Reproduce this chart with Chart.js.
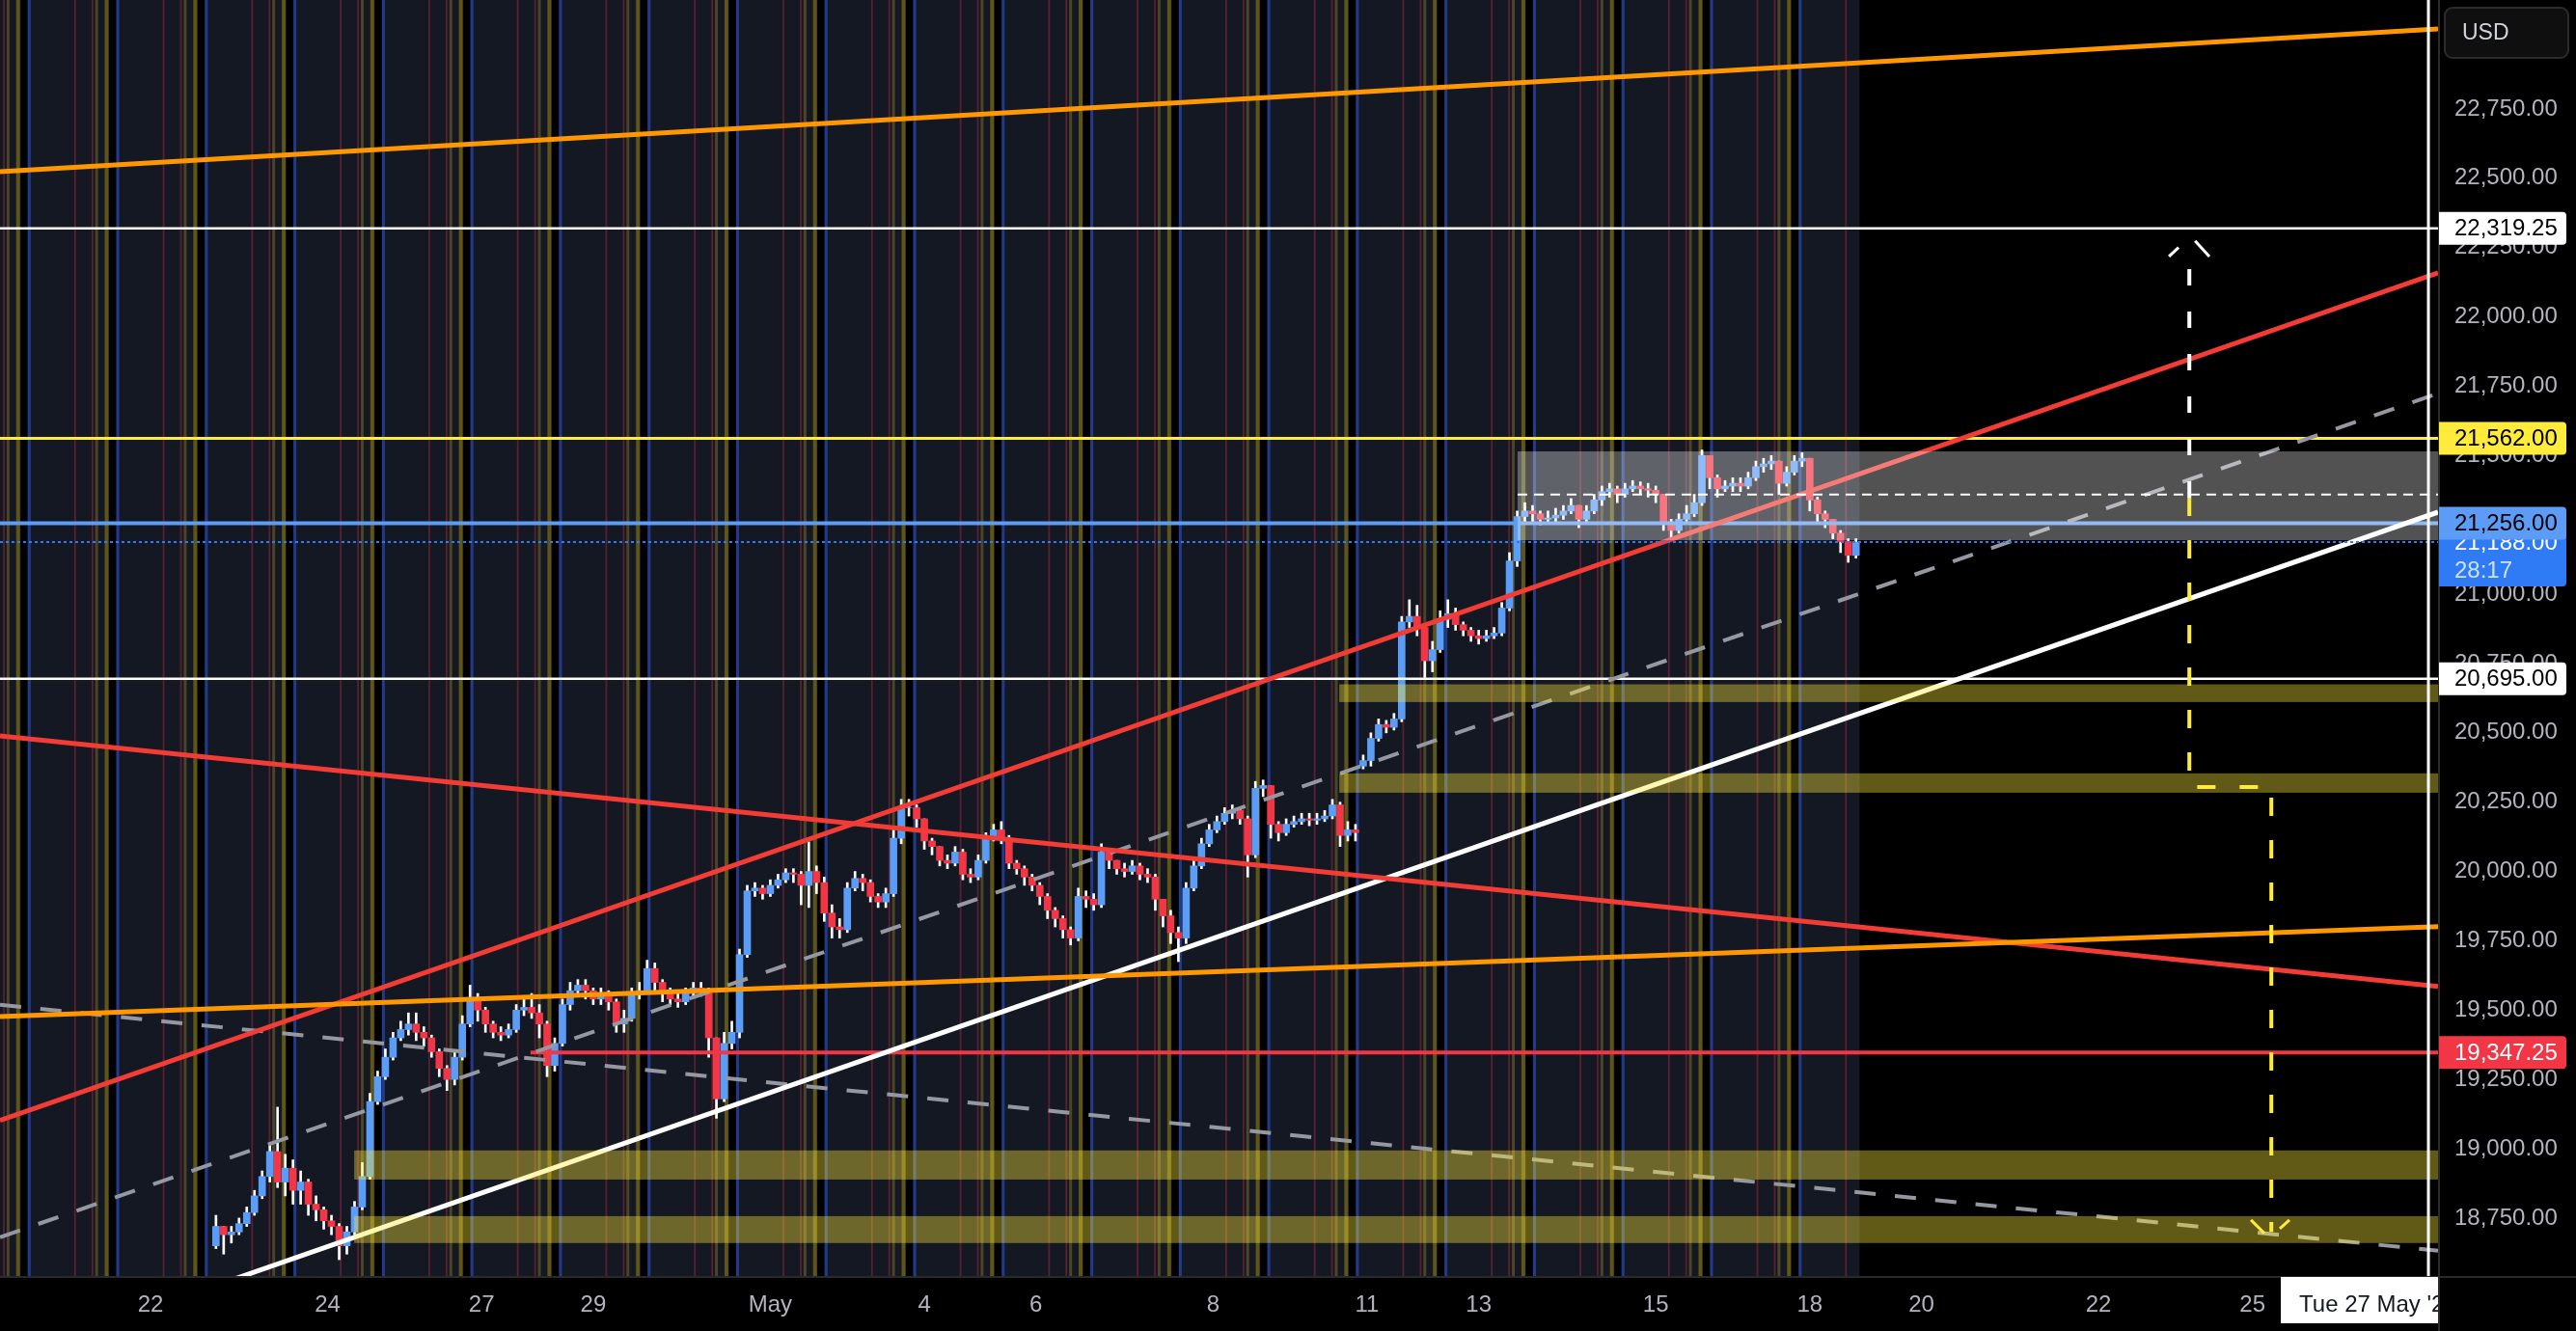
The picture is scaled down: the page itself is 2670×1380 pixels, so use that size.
<!DOCTYPE html>
<html>
<head>
<meta charset="utf-8">
<script src="https://cdn.jsdelivr.net/npm/chart.js@4.4.1/dist/chart.umd.min.js"></script>
<style>
  html, body { margin: 0; padding: 0; background: #000; }
  canvas { display: block; }
</style>
</head>
<body>
<canvas id="chart" width="2670" height="1380" style="width:2670px;height:1380px"></canvas>
<script>
// x axis is in trading hours (weekend gap removed), 0 = Tue 22 Apr 00:00
const tickHours = [0, 46, 86, 115, 161, 201, 230, 276, 316, 345, 391, 431, 460, 506, 546];
const tickLabels = ['22', '24', '27', '29', 'May', '4', '6', '8', '11', '13', '15', '18', '20', '22', '25'];
const priceTicks = [18750, 19000, 19250, 19500, 19750, 20000, 20250, 20500, 20750, 21000,
  21250, 21500, 21750, 22000, 22250, 22500, 22750];
const xMin = -39.1, xMax = 594.2;
const yMin = 18541, yMax = 23143;

// 2h candles, starting 16h after Tue 22 Apr 00:00
const candleStart = 16;
const candleHours = 2;
const firstOpen = 18650;
const gapIndex = [149];
const gapOpen = [20380];
const closes = [
  18720, 18690, 18700, 18730, 18770, 18830, 18900, 18990, 18880, 18930,
  18850, 18880, 18800, 18780, 18740, 18720, 18650, 18700, 18790, 18900,
  19170, 19260, 19330, 19400, 19430, 19450, 19420, 19400, 19350, 19290,
  19250, 19330, 19450, 19540, 19500, 19450, 19420, 19410, 19430, 19500,
  19510, 19490, 19450, 19300, 19380, 19520, 19570, 19590, 19570, 19540,
  19550, 19530, 19450, 19470, 19560, 19570, 19650, 19600, 19560, 19540,
  19530, 19560, 19580, 19570, 19400, 19180, 19380, 19420, 19700, 19930,
  19940, 19920, 19950, 19970, 19995, 19990, 19950, 20000, 19960, 19850,
  19800, 19790, 19940, 19975, 19960, 19910, 19890, 19920, 20120, 20230,
  20230, 20190, 20110, 20090, 20040, 20030, 20070, 19990, 19980, 20040,
  20120, 20150, 20120, 20030, 20010, 19980, 19950, 19910, 19860, 19830,
  19790, 19760, 19910, 19900, 19880, 20070, 20040, 20010, 20000, 20020,
  19990, 19980, 19900, 19840, 19780, 19760, 19940, 20020, 20100, 20150,
  20180, 20210, 20220, 20190, 20060, 20300, 20310, 20170, 20140, 20170,
  20180, 20190, 20185, 20190, 20200, 20240, 20130, 20150, 20140, 20400,
  20480, 20530, 20520, 20550, 20900, 20920, 20880, 20760, 20800, 20910,
  20930, 20890, 20870, 20850, 20840, 20850, 20860, 20950, 21120, 21280,
  21300, 21290, 21270, 21275, 21285, 21300, 21320, 21270, 21300, 21340,
  21370, 21380, 21360, 21380, 21390, 21380, 21375, 21360, 21260, 21230,
  21270, 21290, 21330, 21500, 21420, 21380, 21390, 21400, 21390, 21420,
  21460, 21470, 21480, 21400, 21440, 21480, 21490, 21340, 21290, 21270,
  21220, 21190, 21140, 21188
];
const highs = [
  18760, 18720, 18720, 18750, 18790, 18850, 18920, 19020, 19150, 18980,
  18960, 18920, 18890, 18830, 18790, 18760, 18730, 18720, 18810, 18950,
  19200, 19280, 19360, 19420, 19460, 19490, 19490, 19440, 19410, 19360,
  19300, 19350, 19480, 19590, 19560, 19510, 19460, 19440, 19450, 19520,
  19540, 19560, 19520, 19460, 19400, 19540, 19600, 19610, 19610, 19580,
  19580, 19570, 19540, 19500, 19580, 19600, 19680, 19670, 19610, 19580,
  19560, 19580, 19600, 19600, 19580, 19400, 19420, 19460, 19720, 19950,
  19960, 19950, 19970, 19990, 20010, 20010, 20000, 20107, 20020, 19980,
  19880, 19830, 19960, 20000, 19990, 19970, 19920, 19940, 20150, 20260,
  20260, 20240, 20190, 20120, 20090, 20060, 20090, 20080, 20010, 20060,
  20140, 20170, 20180, 20130, 20040, 20020, 19990, 19960, 19920, 19870,
  19840, 19800, 19940, 19930, 19920, 20100, 20080, 20040, 20030, 20040,
  20030, 20010, 19990, 19900, 19860, 19800, 19960, 20040, 20120, 20170,
  20200, 20230, 20240, 20230, 20200, 20325, 20330, 20310, 20180, 20190,
  20200, 20210, 20210, 20210, 20220, 20260, 20250, 20180, 20170, 20420,
  20500, 20550, 20545, 20570, 20920, 20980, 20960, 20880, 20830, 20940,
  20980, 20950, 20900, 20880, 20870, 20870, 20880, 20970, 21150, 21300,
  21330, 21320, 21300, 21300, 21310, 21320, 21345, 21320, 21320, 21360,
  21390, 21400, 21390, 21400, 21410, 21405, 21400, 21390, 21360, 21270,
  21290, 21320, 21360, 21520, 21500, 21430, 21410, 21420, 21420, 21440,
  21480, 21490, 21500, 21480, 21460, 21500, 21510, 21490, 21350, 21300,
  21270, 21230, 21200, 21200
];
const lows = [
  18640, 18620, 18660, 18690, 18720, 18760, 18820, 18880, 18860, 18830,
  18800, 18800, 18760, 18740, 18710, 18690, 18600, 18620, 18690, 18780,
  18890, 19160, 19250, 19320, 19390, 19410, 19390, 19370, 19330, 19260,
  19210, 19230, 19320, 19440, 19460, 19420, 19400, 19390, 19400, 19420,
  19480, 19470, 19400, 19260, 19280, 19370, 19500, 19550, 19540, 19520,
  19520, 19500, 19420, 19420, 19460, 19540, 19560, 19570, 19530, 19520,
  19510, 19520, 19550, 19550, 19330, 19110, 19170, 19360, 19400, 19690,
  19910, 19900, 19910, 19940, 19960, 19960, 19880, 19870, 19920, 19820,
  19760, 19760, 19780, 19930, 19930, 19890, 19870, 19870, 19910, 20100,
  20200, 20160, 20080, 20060, 20020, 20010, 20020, 19970, 19960, 19970,
  20030, 20110, 20100, 20010, 19990, 19950, 19930, 19880, 19830, 19800,
  19760, 19735, 19750, 19870, 19860, 19870, 20010, 19990, 19980, 19990,
  19970, 19960, 19860, 19800, 19740, 19675, 19740, 19930, 20010, 20090,
  20140, 20170, 20190, 20170, 19980, 20050, 20270, 20120, 20110, 20130,
  20160, 20170, 20165, 20170, 20180, 20190, 20090, 20110, 20110, 20370,
  20380, 20470, 20500, 20510, 20540, 20880, 20850, 20700, 20720, 20790,
  20880, 20870, 20850, 20830, 20820, 20830, 20840, 20850, 20940, 21100,
  21260, 21260, 21250, 21255, 21260, 21270, 21290, 21240, 21260, 21290,
  21320, 21350, 21330, 21350, 21370, 21360, 21350, 21330, 21230, 21200,
  21220, 21260, 21280, 21320, 21380, 21350, 21370, 21370, 21370, 21380,
  21410, 21440, 21450, 21360, 21390, 21430, 21460, 21300, 21260, 21240,
  21200, 21150, 21115, 21130
];

// trend lines: price at left edge (xMin) and right edge (xMax)
const trendStart = [22524, 19477, 19102, 20489, 18236, 18681, 19519];
const trendEnd = [23039, 19801, 22159, 19585, 21296, 21724, 18632];

// horizontal levels
const levelPrices = [22319.25, 21562, 21256, 20695, 19347.25];
const levelFrom = [xMin, xMin, xMin, xMin, 98.7];

// zones (yellow) and range box (gray)
const zoneFrom = [308.8, 308.8, 52.9, 52.9];
const zoneLow = [20611, 20284, 18889, 18660];
const zoneHigh = [20675, 20354, 18994, 18757];
const boxFrom = 355.1;
const boxLow = 21195, boxHigh = 21515, boxMid = 21359;

// arrows
const upArrow = [[529.6, 21348], [529.6, 22262]];
const upHeadLeft = [[524.3, 22218], [526.8, 22250]];
const upHeadRight = [[531.1, 22274], [534.8, 22218]];
const downPath = [[529.6, 21348], [529.6, 20305], [550.9, 20305], [550.9, 18700]];
const downHeadLeft = [[545.6, 18743], [549.1, 18695]];
const downHeadRight = [[553.1, 18712], [555.6, 18743]];

const lastPrice = 21188;
const countdown = '28:17';
const crossHour = 591.7;
const crossLabel = "Tue 27 May '25";

// session indicator: one cycle every 23 trading hours
const sessionBase = -31.5;
const sessionLength = 23;
const sessionEnd = 444;
const markOffsets = [0, 11.9, 16.4, 17.5, 20.1];
const blackBand = [20.75, 22.55];

const FONT = "'Liberation Sans', Arial, sans-serif";
const upColor = '#5b9cf6', downColor = '#f23645';

const markStyle = [
  ['#213a8c', 3], ['#5a2030', 1.8], ['#5a2030', 1.8], ['#4a4524', 3], ['#5e5516', 4]
];
const trendStyle = [
  ['#ff9800', 5, []], ['#ff9800', 5, []], ['#f23c35', 5, []], ['#f23c35', 5, []],
  ['#ffffff', 5, []], ['#9598a1', 4, [22, 20]], ['#9598a1', 4, [22, 20]]
];
const levelStyle = [['#ffffff', 2.5], ['#ffeb3b', 3], ['#5b9cf6', 4], ['#ffffff', 2.5], ['#f23645', 4]];

const hourOf = i => candleStart + candleHours * (i + 0.5);
const opens = closes.map((c, i) => i === 0 ? firstOpen : closes[i - 1]);
gapIndex.forEach((k, j) => { opens[k] = gapOpen[j]; });

const datasets = [];
datasets.push({
  type: 'bar', label: 'wick', order: 30, grouped: false, barThickness: 2,
  backgroundColor: '#ffffff', borderWidth: 0,
  data: closes.map((c, i) => ({ x: hourOf(i), y: [lows[i], highs[i]] }))
});
datasets.push({
  type: 'bar', label: 'body', order: 29, grouped: false, barThickness: 7,
  backgroundColor: closes.map((c, i) => c >= opens[i] ? upColor : downColor), borderWidth: 0,
  data: closes.map((c, i) => ({ x: hourOf(i), y: [opens[i], c] }))
});
levelPrices.forEach((p, i) => {
  datasets.push({
    type: 'line', label: 'level' + i, order: 20,
    borderColor: levelStyle[i][0], borderWidth: levelStyle[i][1],
    pointRadius: 0, fill: false,
    data: [{ x: levelFrom[i], y: p }, { x: xMax, y: p }]
  });
});
trendStart.forEach((p, i) => {
  datasets.push({
    type: 'line', label: 'trend' + i, order: 10,
    borderColor: trendStyle[i][0], borderWidth: trendStyle[i][1], borderDash: trendStyle[i][2],
    pointRadius: 0, fill: false,
    data: [{ x: xMin, y: p }, { x: xMax, y: trendEnd[i] }]
  });
});

const fmt = v => v.toLocaleString('en-US', { minimumFractionDigits: 2, maximumFractionDigits: 2 });

function path(ctx, chart, pts, color, width, dash) {
  const xs = chart.scales.x, ys = chart.scales.y;
  ctx.beginPath();
  pts.forEach(([h, p], i) => {
    const x = xs.getPixelForValue(h), y = ys.getPixelForValue(p);
    if (i) ctx.lineTo(x, y); else ctx.moveTo(x, y);
  });
  ctx.strokeStyle = color;
  ctx.lineWidth = width;
  ctx.setLineDash(dash);
  ctx.stroke();
  ctx.setLineDash([]);
}

const sessionPlugin = {
  id: 'sessions',
  beforeDatasetsDraw(chart) {
    const { ctx, chartArea: a } = chart;
    const xs = chart.scales.x;
    const xEnd = xs.getPixelForValue(sessionEnd);
    ctx.save();
    ctx.beginPath(); ctx.rect(a.left, a.top, xEnd - a.left, a.height); ctx.clip();
    ctx.fillStyle = '#141823';
    ctx.fillRect(a.left, a.top, xEnd - a.left, a.height);
    for (let n = -2; n <= 21; n++) {
      const b = sessionBase + sessionLength * n;
      const x0 = xs.getPixelForValue(b + blackBand[0]);
      const x1 = xs.getPixelForValue(b + blackBand[1]);
      ctx.fillStyle = '#000000';
      ctx.fillRect(x0, a.top, x1 - x0, a.height);
      markOffsets.forEach((o, j) => {
        const x = xs.getPixelForValue(b + o);
        ctx.fillStyle = markStyle[j][0];
        ctx.fillRect(x - markStyle[j][1] / 2, a.top, markStyle[j][1], a.height);
      });
    }
    ctx.restore();
  },
  afterDatasetsDraw(chart) {
    const { ctx, chartArea: a } = chart;
    const xs = chart.scales.x, ys = chart.scales.y;
    ctx.save();
    ctx.beginPath(); ctx.rect(a.left, a.top, a.width, a.height); ctx.clip();
    // yellow zones
    ctx.fillStyle = 'rgba(255, 235, 59, 0.38)';
    zoneFrom.forEach((h, i) => {
      const x0 = xs.getPixelForValue(h), y0 = ys.getPixelForValue(zoneHigh[i]);
      ctx.fillRect(x0, y0, a.right - x0, ys.getPixelForValue(zoneLow[i]) - y0);
    });
    // gray range box
    const bx = xs.getPixelForValue(boxFrom), by = ys.getPixelForValue(boxHigh);
    ctx.fillStyle = 'rgba(255, 255, 255, 0.32)';
    ctx.fillRect(bx, by, a.right - bx, ys.getPixelForValue(boxLow) - by);
    path(ctx, chart, [[boxFrom, boxMid], [xMax, boxMid]], '#ffffff', 2, [10, 7]);
    // current price dotted line
    path(ctx, chart, [[xMin, lastPrice], [xMax, lastPrice]], '#2f7bf5', 2, [3, 3]);
    // arrows
    path(ctx, chart, upArrow, '#ffffff', 4, [17, 27]);
    path(ctx, chart, upHeadLeft, '#ffffff', 3, []);
    path(ctx, chart, upHeadRight, '#ffffff', 3, []);
    path(ctx, chart, downPath, '#ffeb3b', 4, [19, 25]);
    path(ctx, chart, downHeadLeft, '#ffeb3b', 3, []);
    path(ctx, chart, downHeadRight, '#ffeb3b', 3, []);
    // crosshair
    const cx = xs.getPixelForValue(crossHour);
    ctx.fillStyle = '#ffffff';
    ctx.fillRect(cx - 1.5, a.top, 3, a.height);
    ctx.restore();
  },
  afterDraw(chart) {
    const { ctx, chartArea: a, width, height } = chart;
    const xs = chart.scales.x, ys = chart.scales.y;
    ctx.save();
    // separators
    ctx.fillStyle = '#2a2a2a';
    ctx.fillRect(a.right, 0, 2, height);
    ctx.fillRect(0, a.bottom, width, 2);
    // date label under the crosshair
    const cx = xs.getPixelForValue(crossHour);
    ctx.save();
    ctx.beginPath(); ctx.rect(0, a.bottom, a.right, height - a.bottom); ctx.clip();
    ctx.fillStyle = '#ffffff';
    ctx.fillRect(cx - 153, a.bottom + 1, 306, 48);
    ctx.fillStyle = '#131722';
    ctx.font = '24px ' + FONT;
    ctx.textAlign = 'left';
    ctx.textBaseline = 'middle';
    ctx.fillText(crossLabel, cx - 134, a.bottom + 30);
    ctx.restore();

    // price badges
    const bx = a.right + 1, bw = 132;
    ctx.font = '24px ' + FONT;
    ctx.textAlign = 'left';
    ctx.textBaseline = 'middle';
    const badge = (y0, h, bg) => {
      ctx.fillStyle = bg;
      ctx.beginPath();
      ctx.roundRect(bx, y0, bw, h, [0, 4, 4, 0]);
      ctx.fill();
    };
    // current price + countdown
    const ly = ys.getPixelForValue(lastPrice);
    badge(ly - 17, 63, '#2f7bf5');
    ctx.fillStyle = '#ffffff';
    ctx.fillText(fmt(lastPrice), a.right + 17, ly + 1);
    ctx.fillStyle = '#cfe0fd';
    ctx.fillText(countdown, a.right + 17, ly + 30);
    const badgeBg = ['#ffffff', '#ffeb3b', '#5d9cf6', '#ffffff', '#f23645'];
    const badgeFg = ['#000000', '#000000', '#000000', '#000000', '#ffffff'];
    levelPrices.forEach((p, i) => {
      const y = ys.getPixelForValue(p);
      badge(y - 17, 34, badgeBg[i]);
      ctx.fillStyle = badgeFg[i];
      ctx.fillText(fmt(p), a.right + 17, y + 1);
    });
    // currency button
    ctx.fillStyle = '#0f0f0f';
    ctx.strokeStyle = '#2c2c2c';
    ctx.lineWidth = 2;
    ctx.beginPath();
    ctx.roundRect(a.right + 7, 8, 128, 52, 8);
    ctx.fill(); ctx.stroke();
    ctx.fillStyle = '#d1d4dc';
    ctx.font = '23px ' + FONT;
    ctx.fillText('USD', a.right + 25, 35);
    ctx.restore();
  }
};

new Chart(document.getElementById('chart'), {
  type: 'bar',
  data: { datasets },
  options: {
    responsive: false,
    animation: false,
    devicePixelRatio: 1,
    events: [],
    layout: { padding: 0 },
    plugins: { legend: { display: false }, tooltip: { enabled: false } },
    scales: {
      x: {
        type: 'linear', min: xMin, max: xMax, offset: false,
        grid: { display: false, drawTicks: false }, border: { display: false },
        afterBuildTicks: s => { s.ticks = tickHours.map(v => ({ value: v })); },
        afterFit: s => { s.height = 57; s.paddingLeft = 0; s.paddingRight = 0; },
        ticks: {
          color: '#b2b5be', font: { family: FONT, size: 24 }, padding: 16,
          maxRotation: 0, minRotation: 0, autoSkip: false,
          callback: (v, i) => tickLabels[i]
        }
      },
      y: {
        type: 'linear', position: 'right', min: yMin, max: yMax, beginAtZero: false,
        grid: { display: false, drawTicks: false }, border: { display: false },
        afterBuildTicks: s => { s.ticks = priceTicks.map(v => ({ value: v })); },
        afterFit: s => { s.width = 143; s.paddingTop = 0; s.paddingBottom = 0; },
        ticks: {
          color: '#b2b5be', font: { family: FONT, size: 24 }, padding: 17, autoSkip: false,
          callback: v => fmt(v)
        }
      }
    }
  },
  plugins: [sessionPlugin]
});
</script>
</body>
</html>
